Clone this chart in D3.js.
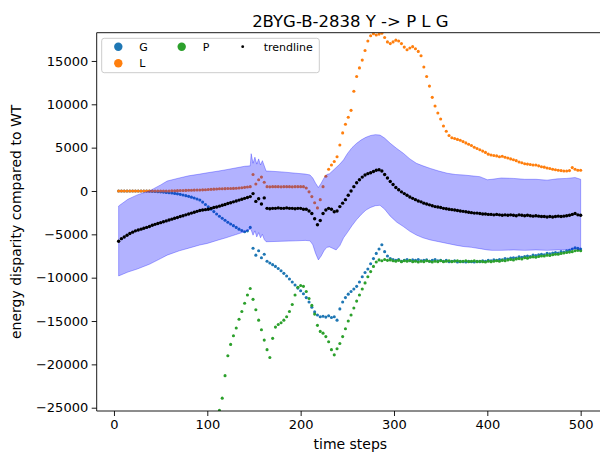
<!DOCTYPE html>
<html>
<head>
<meta charset="utf-8">
<script src="https://cdn.jsdelivr.net/npm/d3@7"></script>
<style>
  body { margin: 0; background: #fff; }
  svg { display: block; font-family: "DejaVu Sans", sans-serif; }
</style>
</head>
<body>
<svg id="chart" width="600" height="458"></svg>
<script>
// Time steps sampled every 3 steps from 5 to 500
const steps = d3.range(5, 501, 3);

// Energy disparity per mutation target (null where the value is out of view)
const seriesG = [
  0,0,0,0,0,0,0,0,0,0,
  0,-20,-40,-60,-80,-100,-130,-160,-200,-240,
  -280,-330,-390,-460,-540,-620,-710,-810,-920,-1040,
  -1280,-1550,-1830,-2100,-2380,-2650,-2920,-3150,-3380,-3600,
  -3800,-4000,-4200,-4400,-4550,-4700,-4600,-4200,-6600,-7400,
  -6900,-7700,-7300,-8100,-8300,-8500,-8700,-8950,-9200,-9500,
  -9800,-10150,-10500,-10850,-11200,-11500,-11850,-12300,-12800,-13400,
  -13950,-14300,-14500,-14450,-14550,-14400,-14600,-14500,-14900,-13600,
  -12800,-12300,-11900,-11600,-11300,-11000,-10500,-9900,-9400,-9000,
  -8400,-7800,-7200,-6700,-6200,-7000,-7500,-7800,-7900,-8000,
  -7900,-8100,-8000,-7900,-8050,-7950,-8000,-7900,-8050,-8000,
  -7950,-8100,-8000,-7900,-8050,-8000,-8100,-8000,-8150,-8100,
  -8050,-8200,-8100,-8150,-8200,-8100,-8150,-8200,-8100,-8150,
  -8050,-8100,-8000,-8050,-7950,-8000,-7900,-7950,-7800,-7850,
  -7750,-7700,-7750,-7600,-7650,-7550,-7500,-7550,-7400,-7450,
  -7350,-7300,-7350,-7200,-7250,-7150,-7100,-7150,-7000,-7050,
  -6900,-6850,-6700,-6550,-6600,-6700
];

const seriesL = [
  0,0,0,0,0,0,0,0,0,0,
  0,0,0,0,0,0,0,0,0,20,
  30,40,50,60,70,80,90,100,110,120,
  130,150,170,190,210,230,250,260,270,280,
  290,300,320,340,380,420,460,500,1900,800,
  1300,1600,1000,500,480,500,500,500,480,500,
  500,500,480,500,500,500,500,350,-100,-650,
  -1350,-1950,-1000,500,1700,2500,3000,3400,3950,5300,
  6700,7700,8500,9300,11500,13200,14200,15100,16200,17300,
  17900,18150,18000,18100,18200,17700,17200,17000,17200,17400,
  17300,17000,16600,16300,16500,16650,16400,16100,15600,14300,
  13200,12100,10800,9800,9000,8300,7500,6900,6400,6150,
  6050,5950,5850,5700,5550,5400,5250,5050,4900,4750,
  4600,4450,4250,4150,4100,4050,3950,4000,3900,3800,
  3700,3600,3500,3350,3250,3150,3100,3050,3000,3000,
  2900,2800,2750,2650,2600,2500,2450,2400,2350,2300,
  2300,2350,2700,2500,2400,2400
];

const seriesP = [
  null,null,null,null,null,null,null,null,null,null,
  null,null,null,null,null,null,null,null,null,null,
  null,null,null,null,null,null,null,null,null,null,
  null,null,null,null,null,null,-25300,-23900,-21300,-19000,
  -17700,-16700,-15800,-14800,-13900,-12950,-12000,-11250,-12500,-13700,
  -14900,-16000,-17200,-18300,-19200,-17000,-15700,-15400,-15200,-14900,
  -14500,-13900,-13100,-12000,-11100,-10900,-11000,-11600,-12400,-13200,
  -14200,-15500,-16200,-16400,-16800,-17400,-18300,-18900,-18200,-17600,
  -16800,-15900,-15000,-14300,-13500,-12700,-12000,-11300,-10600,-9900,
  -9300,-8700,-8200,-7950,-8050,-7900,-8000,-7950,-8050,-8100,
  -8000,-8150,-8050,-8100,-8000,-8150,-8100,-8200,-8100,-8150,
  -8050,-8100,-8200,-8100,-8150,-8050,-8150,-8100,-8050,-8150,
  -8100,-8050,-8150,-8100,-8050,-8150,-8100,-8050,-8150,-8100,
  -8150,-8200,-8100,-8150,-8100,-8050,-8100,-8000,-8050,-7950,
  -7900,-7950,-7850,-7800,-7850,-7700,-7750,-7650,-7600,-7650,
  -7550,-7500,-7500,-7400,-7450,-7350,-7300,-7300,-7200,-7150,
  -7100,-7050,-7000,-6900,-6850,-6900
];

const trend = [
  -5800,-5500,-5300,-5100,-4900,-4750,-4600,-4500,-4400,-4300,
  -4200,-4100,-3950,-3850,-3750,-3650,-3550,-3450,-3350,-3250,
  -3150,-3050,-2950,-2850,-2750,-2650,-2550,-2450,-2350,-2250,
  -2200,-2150,-2100,-2000,-1900,-1850,-1750,-1650,-1550,-1450,
  -1350,-1250,-1150,-1050,-950,-850,-750,-650,-300,-1200,
  -900,-1500,-800,-2000,-2050,-2000,-2000,-1950,-2000,-2000,
  -1950,-2000,-2000,-2050,-2000,-2000,-2100,-2100,-2300,-2600,
  -3200,-3900,-3400,-2600,-2200,-2000,-2100,-2400,-2300,-1800,
  -1400,-1000,-500,0,500,950,1300,1600,1850,2000,
  2100,2250,2400,2450,2300,1900,1500,1100,750,400,
  150,-100,-300,-500,-700,-850,-1000,-1150,-1250,-1400,
  -1500,-1600,-1700,-1800,-1850,-1900,-2000,-2050,-2100,-2150,
  -2200,-2250,-2300,-2350,-2400,-2450,-2500,-2550,-2550,-2600,
  -2650,-2650,-2700,-2700,-2750,-2700,-2750,-2800,-2750,-2800,
  -2750,-2800,-2850,-2750,-2800,-2850,-2800,-2850,-2900,-2850,
  -2900,-2950,-2950,-3000,-2950,-3000,-2950,-2900,-2950,-2900,
  -2850,-2800,-2700,-2600,-2750,-2800
];

// Spread band around the trendline
const bandSteps = [5,15,25,38,50,57,70,80,92,100,112,120,130,140,146,147,149,151,153,155,157,159,161,163,165,
  180,195,205,210,213,216,219,222,225,228,231,234,238,242,246,250,255,260,265,270,275,280,285,290,296,
  303,310,317,324,331,339,348,357,366,374,383,392,400,405,415,428,440,452,464,475,485,494,500];
const bandUpper = [-1730,-950,-450,0,700,1150,1500,1750,1950,2100,2300,2450,2650,2850,2900,4300,3200,3900,3100,3700,3000,3500,2900,2300,2300,
  2200,2050,1950,1850,1500,900,400,900,1500,1900,2000,2300,2700,3100,3600,4300,5000,5500,5900,6200,6400,6500,6450,6100,5500,
  4900,4350,3700,3200,2900,2600,2300,2050,1900,1850,1750,1650,1300,1350,1500,1450,1350,1350,1250,1400,1450,1550,1350];
const bandLower = [-9800,-9350,-9000,-8450,-7800,-7400,-6900,-6600,-6230,-6050,-5650,-5400,-5050,-4700,-4400,-4500,-5100,-4600,-5300,-4800,-5400,-5000,-5600,-5850,-5850,
  -5800,-5750,-5700,-5750,-6200,-7200,-7950,-7500,-6900,-6500,-6450,-6600,-6800,-6300,-5400,-4800,-4000,-3300,-2700,-2200,-1900,-1700,-1650,-2100,-2900,
  -3600,-4100,-4650,-5080,-5400,-5650,-5850,-6050,-6250,-6400,-6500,-6650,-6800,-6850,-6850,-6800,-6850,-6800,-6850,-6800,-6750,-6700,-6800];

const xTicks = [0, 100, 200, 300, 400, 500];
const yTicks = [-25000, -20000, -15000, -10000, -5000, 0, 5000, 10000, 15000];

const titleText = "2BYG-B-2838 Y -> P L G";
const xLabel = "time steps";
const yLabel = "energy disparity compared to WT";

const svg = d3.select("#chart");
const plot = { left: 96.7, top: 32.7, right: 604, bottom: 411 };

const x = d3.scaleLinear().domain([-18.5, 525]).range([plot.left, plot.right]);
const y = d3.scaleLinear().domain([-25380, 18260]).range([plot.bottom, plot.top]);

svg.append("defs").append("clipPath").attr("id", "plotClip")
  .append("rect")
  .attr("x", plot.left).attr("y", plot.top)
  .attr("width", plot.right - plot.left).attr("height", plot.bottom - plot.top);

const layer = svg.append("g").attr("clip-path", "url(#plotClip)");

const scatterSets = [
  { name: "G", values: seriesG, color: "#1f77b4" },
  { name: "L", values: seriesL, color: "#ff7f0e" },
  { name: "P", values: seriesP, color: "#2ca02c" }
];

scatterSets.forEach(s => {
  const pts = steps.map((t, i) => ({ t, v: s.values[i] })).filter(d => d.v !== null);
  layer.append("g").selectAll("circle").data(pts).join("circle")
    .attr("cx", d => x(d.t)).attr("cy", d => y(d.v))
    .attr("r", 1.55).attr("fill", s.color);
});

// Band
const bandData = bandSteps.map((t, i) => ({ t, hi: bandUpper[i], lo: bandLower[i] }));
layer.append("path")
  .datum(bandData)
  .attr("d", d3.area().x(d => x(d.t)).y0(d => y(d.lo)).y1(d => y(d.hi)))
  .attr("fill", "blue").attr("fill-opacity", 0.3)
  .attr("stroke", "blue").attr("stroke-opacity", 0.3).attr("stroke-width", 1);

// Trendline dots
layer.append("g").selectAll("circle")
  .data(steps.map((t, i) => ({ t, v: trend[i] })))
  .join("circle")
  .attr("cx", d => x(d.t)).attr("cy", d => y(d.v))
  .attr("r", 1.7).attr("fill", "#000");

// Axes
const fmt = d3.format("d");
const xAxis = svg.append("g").attr("transform", `translate(0,${plot.bottom})`)
  .call(d3.axisBottom(x).tickValues(xTicks).tickSize(5).tickSizeOuter(0).tickPadding(3.5));
const yAxis = svg.append("g").attr("transform", `translate(${plot.left},0)`)
  .call(d3.axisLeft(y).tickValues(yTicks).tickFormat(fmt).tickSize(5).tickSizeOuter(0).tickPadding(3.5));

[xAxis, yAxis].forEach(a => {
  a.select(".domain").remove();
  a.selectAll("text").attr("font-size", 13).attr("fill", "#000").attr("font-family", "DejaVu Sans");
  a.selectAll("line").attr("stroke", "#000").attr("stroke-width", 0.9);
});

// Spines
const spines = svg.append("g").attr("stroke", "#000").attr("stroke-width", 0.9).attr("fill", "none");
spines.append("line").attr("x1", plot.left).attr("x2", plot.left).attr("y1", plot.top).attr("y2", plot.bottom);
spines.append("line").attr("x1", plot.left).attr("x2", plot.right).attr("y1", plot.bottom).attr("y2", plot.bottom);
spines.append("line").attr("x1", plot.left).attr("x2", plot.right).attr("y1", plot.top).attr("y2", plot.top);

// Title and axis labels
svg.append("text").attr("x", (plot.left + plot.right) / 2).attr("y", 26.5)
  .attr("text-anchor", "middle").attr("font-size", 16.5).text(titleText);
svg.append("text").attr("x", (plot.left + plot.right) / 2).attr("y", 449)
  .attr("text-anchor", "middle").attr("font-size", 14).text(xLabel);
svg.append("text")
  .attr("transform", `translate(21,${(plot.top + plot.bottom) / 2}) rotate(-90)`)
  .attr("text-anchor", "middle").attr("font-size", 14).text(yLabel);

// Legend
const legendItems = [
  { label: "G", color: "#1f77b4", r: 4.2, cx: 118.3, cy: 46.7 },
  { label: "L", color: "#ff7f0e", r: 4.2, cx: 118.3, cy: 63.3 },
  { label: "P", color: "#2ca02c", r: 4.2, cx: 181.7, cy: 46.7 },
  { label: "trendline", color: "#000", r: 1.4, cx: 242.7, cy: 46.7 }
];
const legend = svg.append("g");
legend.append("rect")
  .attr("x", 101.7).attr("y", 38.3).attr("width", 217.6).attr("height", 34.4)
  .attr("rx", 2.5).attr("fill", "#fff").attr("fill-opacity", 0.8)
  .attr("stroke", "#cccccc").attr("stroke-width", 1);
legendItems.forEach(it => {
  legend.append("circle").attr("cx", it.cx).attr("cy", it.cy).attr("r", it.r).attr("fill", it.color);
  legend.append("text").attr("x", it.cx + 21).attr("y", it.cy + 4)
    .attr("font-size", 11).text(it.label);
});
</script>
</body>
</html>
